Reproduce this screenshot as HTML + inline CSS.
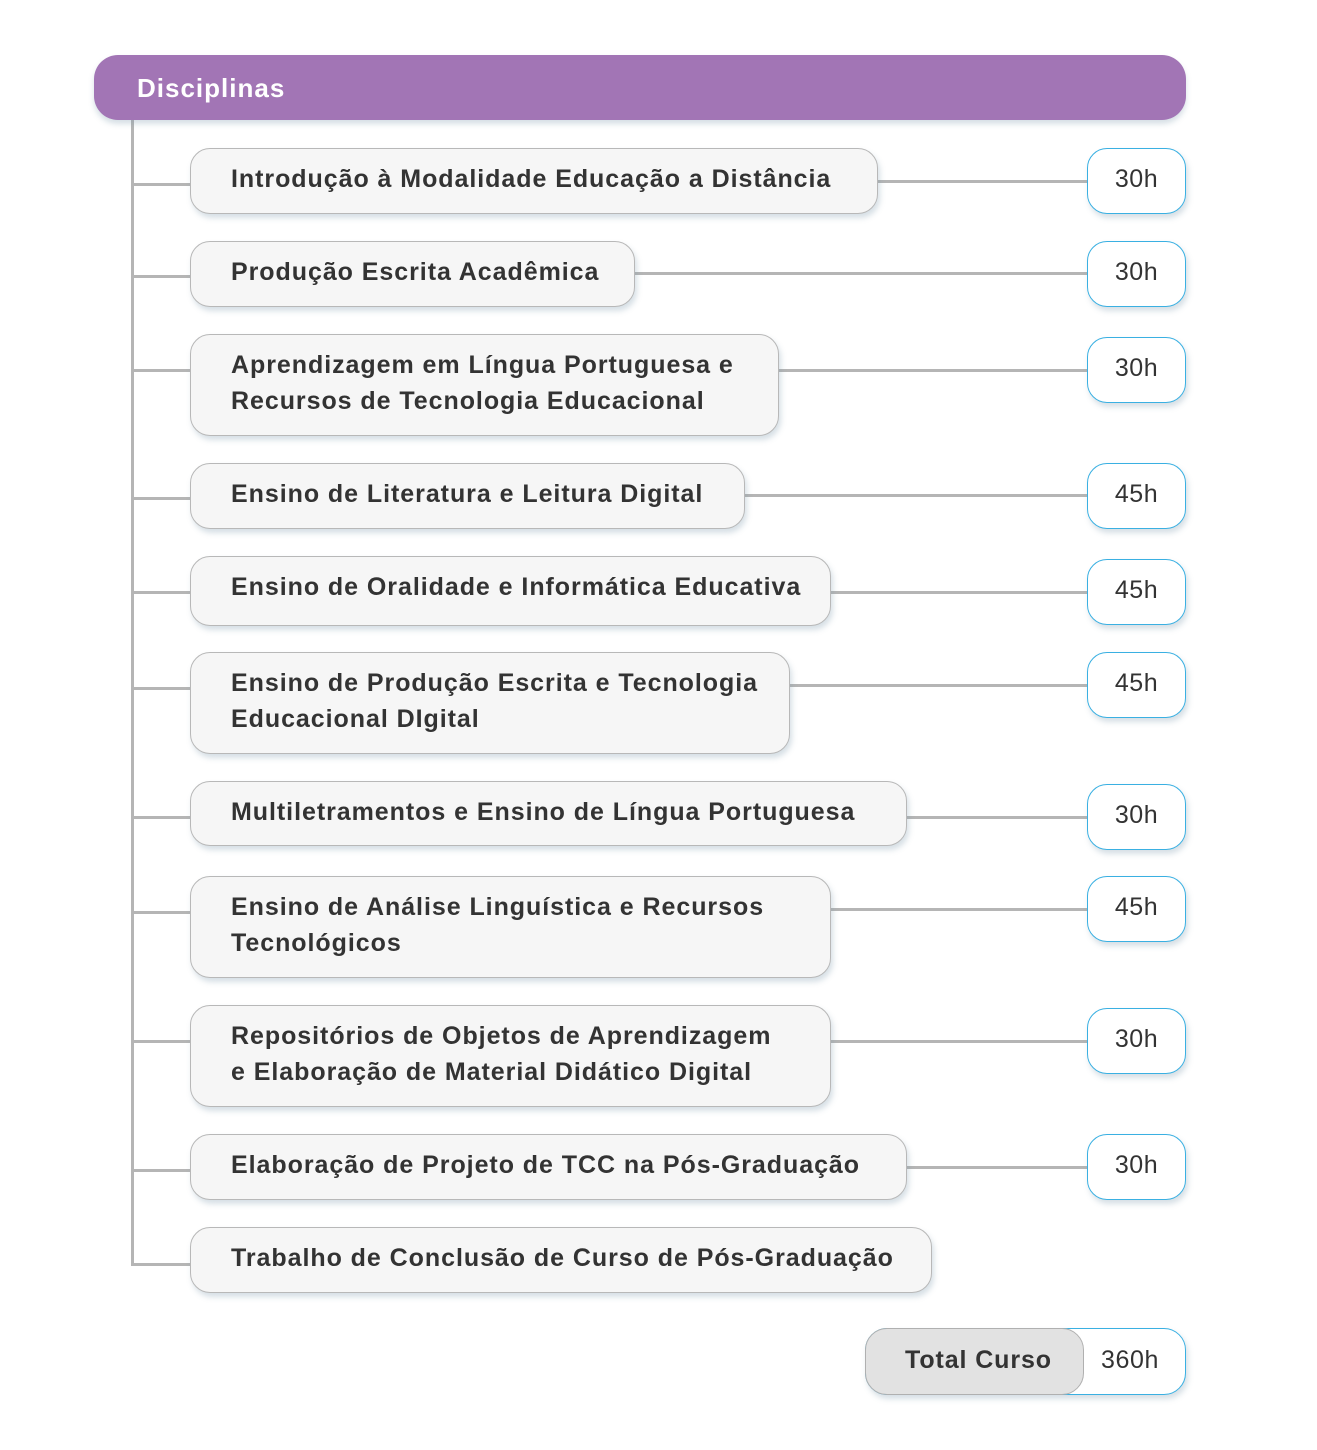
<!DOCTYPE html>
<html><head><meta charset="utf-8"><style>
body{margin:0;width:1317px;height:1450px;background:#fff;position:relative;font-family:"Liberation Sans",sans-serif;overflow:hidden}
.a{position:absolute;box-sizing:border-box}
.hdr{left:94px;top:55px;width:1092px;height:65px;background:#a275b5;border-radius:24px;color:#fff;font-weight:bold;font-size:26px;padding:18px 0 0 43px;box-shadow:0 4px 6px rgba(120,150,170,.3);letter-spacing:1px}
.b{left:190px;background:#f6f6f6;border:1.5px solid #b8b8b8;border-radius:20px;color:#333;font-weight:bold;font-size:25px;line-height:36px;padding:12px 0 0 40px;box-shadow:2px 4px 6px rgba(120,150,170,.3);letter-spacing:.95px;white-space:nowrap}
.h{left:1087px;width:99px;height:66px;background:#fff;border:1.5px solid #3ab0e2;border-radius:20px;color:#333;font-size:25px;text-align:center;padding-top:16px;box-shadow:2px 4px 6px rgba(120,150,170,.3);letter-spacing:.5px}
.l{background:#b5b5b5;height:3px}
</style></head><body>
<div class="a l" style="left:131px;top:118px;width:3px;height:1148px"></div>
<div class="a hdr">Disciplinas</div>

<div class="a l" style="left:131px;top:183px;width:60px"></div>
<div class="a l" style="left:876px;top:180px;width:212px"></div>
<div class="a b" style="top:148px;width:688px;height:66px">Introdução à Modalidade Educação a Distância</div>
<div class="a h" style="top:148px">30h</div>

<div class="a l" style="left:131px;top:275px;width:60px"></div>
<div class="a l" style="left:633px;top:272px;width:455px"></div>
<div class="a b" style="top:241px;width:445px;height:66px">Produção Escrita Acadêmica</div>
<div class="a h" style="top:241px">30h</div>

<div class="a l" style="left:131px;top:369px;width:60px"></div>
<div class="a l" style="left:777px;top:369px;width:311px"></div>
<div class="a b" style="top:334px;width:589px;height:102px">Aprendizagem em Língua Portuguesa e<br>Recursos de Tecnologia Educacional</div>
<div class="a h" style="top:337px">30h</div>

<div class="a l" style="left:131px;top:497px;width:60px"></div>
<div class="a l" style="left:743px;top:494px;width:345px"></div>
<div class="a b" style="top:463px;width:555px;height:66px">Ensino de Literatura e Leitura Digital</div>
<div class="a h" style="top:463px">45h</div>

<div class="a l" style="left:131px;top:591px;width:60px"></div>
<div class="a l" style="left:829px;top:591px;width:259px"></div>
<div class="a b" style="top:556px;width:641px;height:70px">Ensino de Oralidade e Informática Educativa</div>
<div class="a h" style="top:559px">45h</div>

<div class="a l" style="left:131px;top:687px;width:60px"></div>
<div class="a l" style="left:788px;top:684px;width:300px"></div>
<div class="a b" style="top:652px;width:600px;height:102px">Ensino de Produção Escrita e Tecnologia<br>Educacional DIgital</div>
<div class="a h" style="top:652px">45h</div>

<div class="a l" style="left:131px;top:816px;width:60px"></div>
<div class="a l" style="left:905px;top:816px;width:183px"></div>
<div class="a b" style="top:781px;width:717px;height:65px">Multiletramentos e Ensino de Língua Portuguesa</div>
<div class="a h" style="top:784px">30h</div>

<div class="a l" style="left:131px;top:911px;width:60px"></div>
<div class="a l" style="left:829px;top:908px;width:259px"></div>
<div class="a b" style="top:876px;width:641px;height:102px">Ensino de Análise Linguística e Recursos<br>Tecnológicos</div>
<div class="a h" style="top:876px">45h</div>

<div class="a l" style="left:131px;top:1040px;width:60px"></div>
<div class="a l" style="left:829px;top:1040px;width:259px"></div>
<div class="a b" style="top:1005px;width:641px;height:102px">Repositórios de Objetos de Aprendizagem<br>e Elaboração de Material Didático Digital</div>
<div class="a h" style="top:1008px">30h</div>

<div class="a l" style="left:131px;top:1169px;width:60px"></div>
<div class="a l" style="left:905px;top:1166px;width:183px"></div>
<div class="a b" style="top:1134px;width:717px;height:66px">Elaboração de Projeto de TCC na Pós-Graduação</div>
<div class="a h" style="top:1134px">30h</div>

<div class="a l" style="left:131px;top:1263px;width:60px"></div>
<div class="a b" style="top:1227px;width:742px;height:66px">Trabalho de Conclusão de Curso de Pós-Graduação</div>

<div class="a" style="left:865px;top:1328px;width:321px;height:67px;background:#fff;border:1.5px solid #3ab0e2;border-radius:22px;box-shadow:2px 4px 6px rgba(120,150,170,.3);font-size:25px;color:#333;padding:17px 0 0 235px;letter-spacing:.6px">360h</div>
<div class="a" style="left:865px;top:1328px;width:219px;height:67px;background:#e2e2e2;border:1.5px solid #b0b0b0;border-radius:22px;font-size:25px;font-weight:bold;color:#333;padding:17px 0 0 39px;letter-spacing:.9px">Total Curso</div>
</body></html>
